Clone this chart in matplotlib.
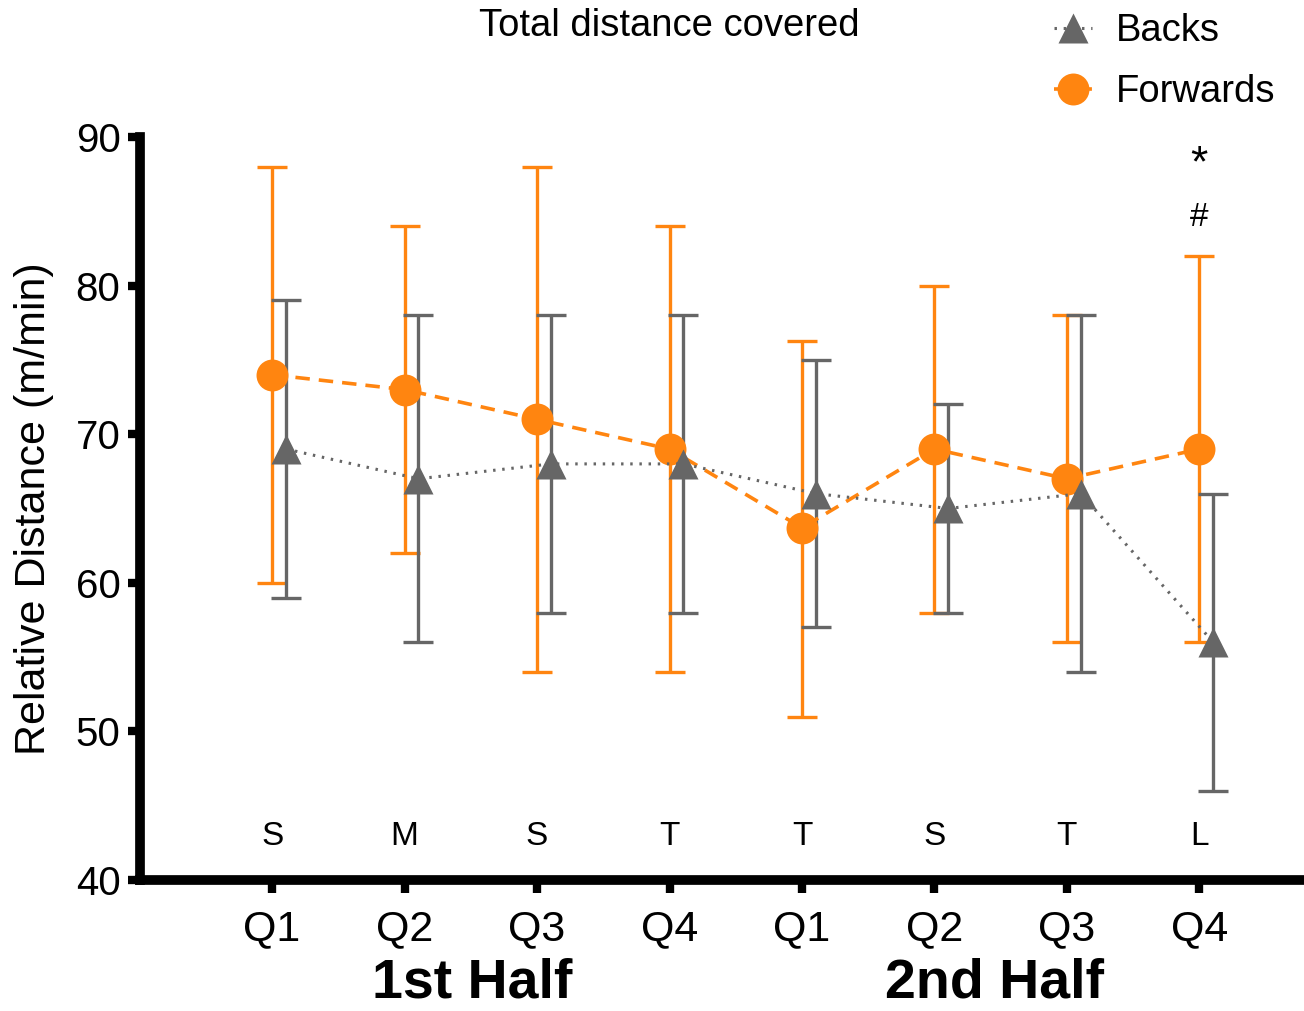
import numpy as np
import matplotlib.pyplot as plt

plt.rcParams['font.family'] = ['Liberation Sans', 'DejaVu Sans']

quarters = ["Q1", "Q2", "Q3", "Q4", "Q1", "Q2", "Q3", "Q4"]
opponents = ["S", "M", "S", "T", "T", "S", "T", "L"]

fwd_mean = [74, 73, 71, 69, 63.7, 69, 67, 69]
fwd_low = [60, 62, 54, 54, 51, 58, 56, 56]
fwd_high = [88, 84, 88, 84, 76.3, 80, 78, 82]

back_mean = [69, 67, 68, 68, 66, 65, 66, 56]
back_low = [59, 56, 58, 58, 57, 58, 54, 46]
back_high = [79, 78, 78, 78, 75, 72, 78, 66]

ORANGE = "#ff8510"
GREY = "#666666"

x = np.arange(1, 9)
xb = x + 0.105

fig = plt.figure(figsize=(13.04, 10.11), dpi=100)
ax = fig.add_axes([0.1074, 0.1296, 0.8926, 0.7349])

fm = np.array(fwd_mean)
ferr = [fm - np.array(fwd_low), np.array(fwd_high) - fm]
bm = np.array(back_mean)
berr = [bm - np.array(back_low), np.array(back_high) - bm]

ax.errorbar(x, fm, yerr=ferr, fmt="none", ecolor=ORANGE, elinewidth=2.4,
            capsize=11, capthick=2.4, zorder=2)
ax.errorbar(xb, bm, yerr=berr, fmt="none", ecolor=GREY, elinewidth=2.4,
            capsize=11, capthick=2.4, zorder=3)

ax.plot(x, fm, color=ORANGE, ls=(0, (4, 2.5)), lw=2.6, marker="o",
        ms=23, mec="none", zorder=4, label="Forwards")
ax.plot(xb, bm, color=GREY, ls=(0, (0.8, 2.2)), lw=2.2, marker="^",
        ms=22, mec="none", zorder=5, label="Backs")

for xi, lab in zip(x, opponents):
    ax.text(xi, 42.9, lab, ha="center", va="center", fontsize=24)

ax.text(8, 88.1, "*", ha="center", va="center", fontsize=32)
ax.text(8, 84.6, "#", ha="center", va="center", fontsize=24)

ax.set_xlim(0.003, 8.79)
ax.set_ylim(40, 90)
ax.set_yticks([40, 50, 60, 70, 80, 90])
ax.set_xticks(x)
ax.set_xticklabels(quarters)
ax.tick_params(axis="both", width=6, length=9, labelsize=29, pad=5)
ax.tick_params(axis="x", labelsize=31, pad=12)
for s in ["top", "right"]:
    ax.spines[s].set_visible(False)
for s in ["left", "bottom"]:
    ax.spines[s].set_linewidth(7)
ax.set_ylabel("Relative Distance (m/min)", fontsize=31, labelpad=16)

fig.text(0.362, 0.001, "1st Half", ha="center", va="bottom",
         fontsize=40, fontweight="bold")
fig.text(0.763, 0.001, "2nd Half", ha="center", va="bottom",
         fontsize=40, fontweight="bold")
fig.text(0.513, 0.974, "Total distance covered", ha="center", va="center",
         fontsize=27.5)

handles, labels = ax.get_legend_handles_labels()
ax.legend(handles[::-1], labels[::-1], loc="upper right",
          bbox_to_anchor=(1.005, 1.213), frameon=False, fontsize=27.5,
          handlelength=1.0, handletextpad=0.63, labelspacing=0.65,
          markerscale=1.0)

fig.savefig("out.png", dpi=100)
